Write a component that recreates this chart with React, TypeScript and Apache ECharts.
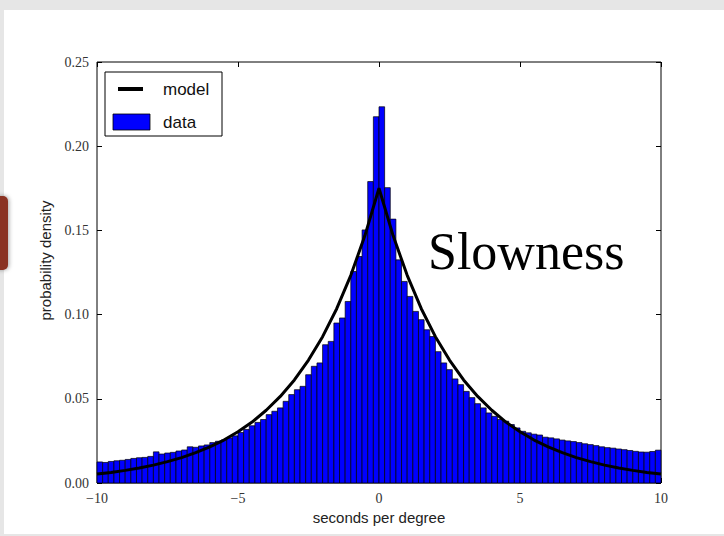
import { useEffect, useRef } from "react";
import * as echarts from "echarts";

// Histogram bins: 100 bins of width 0.2 covering -10 .. 10 s/deg
const BIN_START = -10;
const BIN_WIDTH = 0.2;

// Probability density per bin, left to right
const density = [
  0.0125, 0.0122, 0.0128, 0.0132, 0.0135, 0.0140, 0.0146, 0.0150, 0.0152, 0.0158,
  0.0185, 0.0172, 0.0178, 0.0182, 0.0190, 0.0196, 0.0215, 0.0212, 0.0220, 0.0226,
  0.0240, 0.0248, 0.0255, 0.0268, 0.0280, 0.0300, 0.0318, 0.0340, 0.0360, 0.0377,
  0.0406, 0.0426, 0.0446, 0.0485, 0.0525, 0.0554, 0.0574, 0.0643, 0.0693, 0.0713,
  0.0821, 0.0841, 0.0950, 0.0980, 0.1078, 0.1256, 0.1345, 0.1503, 0.1790, 0.2175,
  0.2234, 0.1754, 0.1567, 0.1325, 0.1197, 0.1108, 0.1019, 0.0970, 0.0910, 0.0870,
  0.0780, 0.0713, 0.0673, 0.0618, 0.0584, 0.0544, 0.0507, 0.0471, 0.0446, 0.0416,
  0.0396, 0.0377, 0.0367, 0.0347, 0.0327, 0.0307, 0.0298, 0.0290, 0.0285, 0.0272,
  0.0268, 0.0262, 0.0255, 0.0250, 0.0246, 0.0240, 0.0233, 0.0228, 0.0222, 0.0215,
  0.0210, 0.0207, 0.0202, 0.0198, 0.0193, 0.0188, 0.0184, 0.0183, 0.0187, 0.0195,
];

// Fitted model curve
const modelX = [
  -10, -9.5, -9, -8.5, -8, -7.5, -7, -6.5, -6, -5.5, -5, -4.5, -4, -3.5, -3, -2.5, -2, -1.5, -1, -0.5,
  0, 0.5, 1, 1.5, 2, 2.5, 3, 3.5, 4, 4.5, 5, 5.5, 6, 6.5, 7, 7.5, 8, 8.5, 9, 9.5, 10,
];
const modelY = [
  0.0053, 0.0063, 0.0075, 0.0089, 0.0106, 0.0127, 0.0151, 0.0180, 0.0214, 0.0255, 0.0304,
  0.0362, 0.0432, 0.0514, 0.0612, 0.0730, 0.0869, 0.1035, 0.1233, 0.1469,
  0.1750,
  0.1469, 0.1233, 0.1035, 0.0869, 0.0730, 0.0612, 0.0514, 0.0432, 0.0362, 0.0304,
  0.0255, 0.0214, 0.0180, 0.0151, 0.0127, 0.0106, 0.0089, 0.0075, 0.0063, 0.0053,
];

const xTicks = { min: -10, max: 10, interval: 5 };
const yTicks = { min: 0, max: 0.25, interval: 0.05 };

const TICK_FONT = "'Liberation Serif', 'DejaVu Serif', serif";
const SANS = "'Liberation Sans', Arial, sans-serif";

const innerTick = { inside: true, length: 5, lineStyle: { color: "#000", width: 1 } };
const hiddenLine = { show: false, onZero: false };

export default function App() {
  const ref = useRef<HTMLDivElement>(null);

  useEffect(() => {
    if (!ref.current) return;
    const chart = echarts.init(ref.current, null, { renderer: "svg" });

    const barData = density.map((v, i) => {
      const x0 = BIN_START + i * BIN_WIDTH;
      return [x0, x0 + BIN_WIDTH, v];
    });
    const modelData = modelX.map((x, i) => [x, modelY[i]]);

    const fmtX = (v: number) => (v < 0 ? "\u2212" + Math.abs(v) : String(v));

    chart.setOption({
      animation: false,
      backgroundColor: "#e6e6e6",
      grid: {
        left: 97,
        right: 63,
        top: 62,
        bottom: 53,
        show: true,
        borderColor: "#000",
        borderWidth: 1,
        backgroundColor: "transparent",
      },
      xAxis: [
        {
          type: "value",
          ...xTicks,
          position: "bottom",
          axisLine: hiddenLine,
          splitLine: { show: false },
          axisTick: innerTick,
          axisLabel: {
            formatter: fmtX,
            fontFamily: TICK_FONT,
            fontSize: 14,
            color: "#333",
            margin: 8,
            showMinLabel: true,
            showMaxLabel: true,
          },
          name: "seconds per degree",
          nameLocation: "middle",
          nameGap: 27,
          nameTextStyle: { fontFamily: SANS, fontSize: 15, color: "#222" },
        },
        {
          type: "value",
          ...xTicks,
          position: "top",
          axisLine: hiddenLine,
          splitLine: { show: false },
          axisTick: innerTick,
          axisLabel: { show: false },
        },
      ],
      yAxis: [
        {
          type: "value",
          ...yTicks,
          position: "left",
          axisLine: hiddenLine,
          splitLine: { show: false },
          axisTick: innerTick,
          axisLabel: {
            formatter: (v: number) => v.toFixed(2),
            fontFamily: TICK_FONT,
            fontSize: 14,
            color: "#333",
            margin: 8,
            showMinLabel: true,
            showMaxLabel: true,
          },
          name: "probability density",
          nameLocation: "middle",
          nameGap: 44,
          nameRotate: 90,
          nameTextStyle: {
            fontFamily: SANS,
            fontSize: 15,
            color: "#222",
            padding: [0, 0, 0, 24],
          },
        },
        {
          type: "value",
          ...yTicks,
          position: "right",
          axisLine: hiddenLine,
          splitLine: { show: false },
          axisTick: innerTick,
          axisLabel: { show: false },
        },
      ],
      graphic: [
        // slide panel behind the figure
        {
          type: "rect",
          z: -10,
          silent: true,
          shape: { x: 4, y: 10, width: 730, height: 524 },
          style: { fill: "#ffffff" },
        },
        // tab at the slide's left edge
        {
          type: "rect",
          z: -5,
          silent: true,
          shape: { x: -12, y: 196, width: 20, height: 74, r: 5 },
          style: {
            fill: "#8a3324",
            shadowBlur: 4,
            shadowColor: "rgba(0,0,0,0.35)",
            shadowOffsetX: 1,
          },
        },
        // legend box
        {
          type: "group",
          z: 10,
          children: [
            {
              type: "rect",
              shape: { x: 105, y: 72, width: 117, height: 64 },
              style: { fill: "#ffffff", stroke: "#000", lineWidth: 1 },
            },
            {
              type: "line",
              shape: { x1: 118, y1: 89, x2: 143, y2: 89 },
              style: { stroke: "#000", lineWidth: 4 },
            },
            {
              type: "text",
              x: 163,
              y: 89,
              style: {
                text: "model",
                font: `17px ${SANS}`,
                fill: "#111",
                verticalAlign: "middle",
              },
            },
            {
              type: "rect",
              shape: { x: 113, y: 114, width: 37, height: 16 },
              style: { fill: "#0000ff", stroke: "#000", lineWidth: 0.8 },
            },
            {
              type: "text",
              x: 163,
              y: 122,
              style: {
                text: "data",
                font: `17px ${SANS}`,
                fill: "#111",
                verticalAlign: "middle",
              },
            },
          ],
        },
        {
          type: "text",
          z: 10,
          x: 428,
          y: 277,
          style: {
            text: "Slowness",
            font: "52px 'Liberation Serif', 'DejaVu Serif', serif",
            fill: "#000",
            verticalAlign: "bottom",
          },
        },
      ],
      series: [
        {
          name: "data",
          type: "custom",
          xAxisIndex: 0,
          yAxisIndex: 0,
          z: 2,
          encode: { x: [0, 1], y: 2 },
          data: barData,
          renderItem: (_params: any, api: any) => {
            const p0 = api.coord([api.value(0), api.value(2)]);
            const p1 = api.coord([api.value(1), 0]);
            return {
              type: "rect",
              shape: { x: p0[0], y: p0[1], width: p1[0] - p0[0], height: p1[1] - p0[1] },
              style: { fill: "#0000ff", stroke: "#000", lineWidth: 0.7 },
            };
          },
        },
        {
          name: "model",
          type: "line",
          xAxisIndex: 0,
          yAxisIndex: 0,
          z: 3,
          data: modelData,
          showSymbol: false,
          symbol: "none",
          lineStyle: { color: "#000", width: 3 },
        },
      ],
    });

    return () => chart.dispose();
  }, []);

  return (
    <div
      ref={ref}
      style={{ position: "absolute", left: 0, top: 0, width: 724, height: 536 }}
    />
  );
}
